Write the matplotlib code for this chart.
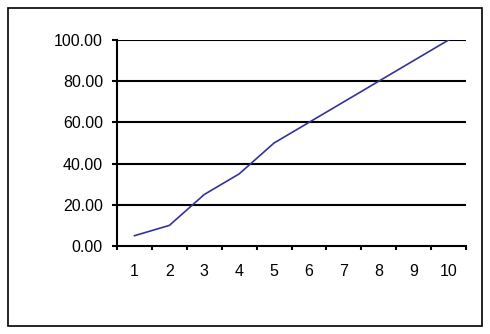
import matplotlib
matplotlib.use("Agg")
import matplotlib.pyplot as plt
from matplotlib.patches import Rectangle
import numpy as np

categories = [1, 2, 3, 4, 5, 6, 7, 8, 9, 10]
values = [5, 10, 25, 35, 50, 60, 70, 80, 90, 100]
yticks = [0, 20, 40, 60, 80, 100]

plt.rcParams['font.family'] = ['Liberation Sans', 'DejaVu Sans']

W, H = 490, 334
fig = plt.figure(figsize=(W/100, H/100), dpi=100)
fig.patch.set_facecolor('white')

left, right, top, bottom = 117, 466, 40, 246
ax = fig.add_axes([left/W, 1 - bottom/H, (right-left)/W, (bottom-top)/H])

ax.plot(categories, values, color='#333399', lw=1.2)
ax.set_xlim(0.5, len(categories) + 0.5)
ax.set_ylim(0, 100)

ax.set_yticks(yticks)
ax.set_yticklabels([f"{v:.2f}" for v in yticks])
for y in yticks[1:]:
    ax.axhline(y, color='black', lw=1.5, zorder=0)

ax.set_xticks(categories)
ax.set_xticklabels([str(c) for c in categories])
ax.set_xticks(np.arange(0.5, len(categories) + 1, 1), minor=True)
ax.tick_params(axis='x', which='major', length=0, pad=13, labelsize=11.5)
ax.tick_params(axis='x', which='minor', length=3, width=1.5, direction='out')
ax.tick_params(axis='y', length=3.6, width=1.5, pad=6.5, labelsize=11.5)

for s in ['top', 'right']:
    ax.spines[s].set_visible(False)
for s in ['left', 'bottom']:
    ax.spines[s].set_linewidth(1.5)
    ax.spines[s].set_color('black')

fig.patches.append(Rectangle((8/W, 1 - 326/H), (482-8)/W, (326-8)/H,
                             transform=fig.transFigure, fill=False,
                             edgecolor='black', lw=1.2))

fig.savefig('out.png', dpi=100)
